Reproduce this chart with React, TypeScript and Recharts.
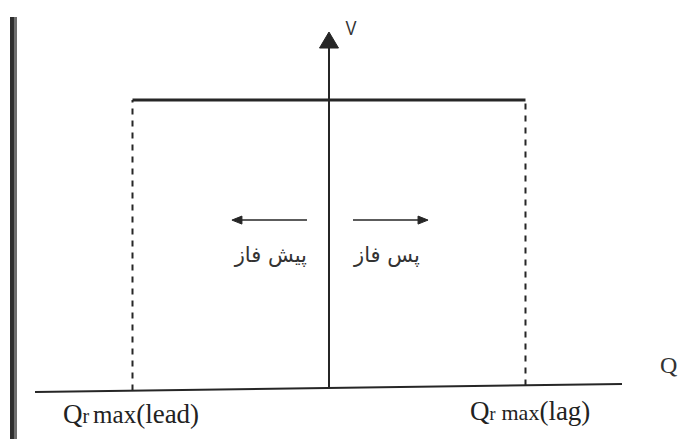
import React from "react";
import { ComposedChart, Scatter, XAxis, YAxis, ReferenceArea, ReferenceLine } from "recharts";

// Q axis (reactive power): lead = -1, lag = +1 (normalised Qr max)
const qLimits = [-1, 1];
// V level of the flat operating line (normalised)
const vLevel = 1;

const topLine = [{ x: -1, y: 1 }, { x: 1, y: 1 }];
const leadDash = [{ x: -1, y: -0.009 }, { x: -1, y: 1 }];
const lagDash = [{ x: 1, y: 0.009 }, { x: 1, y: 1 }];
const qAxis = [{ x: -1.496, y: -0.0139 }, { x: 1.491, y: 0.0139 }];
const vAxis = [{ x: 0, y: 0 }, { x: 0, y: 1.19 }];
const leadArrow = [{ x: -0.112, y: 0.583 }, { x: -0.46, y: 0.583 }];
const lagArrow = [{ x: 0.122, y: 0.583 }, { x: 0.47, y: 0.583 }];

const heads = [
  { q: 0, v: 1.236, dir: "up" },
  { q: -0.494, v: 0.583, dir: "left" },
  { q: 0.504, v: 0.583, dir: "right" },
];

const labels = [
  { q: 0.112, v: 1.226, kind: "V" },
  { q: -0.296, v: 0.438, kind: "lead-fa" },
  { q: 0.295, v: 0.438, kind: "lag-fa" },
  { q: -1.354, v: -0.1215, kind: "lead" },
  { q: 0.7176, v: -0.1111, kind: "lag" },
  { q: 1.685, v: 0.052, kind: "Q" },
];

const Q_DOMAIN = [-1.6743, 1.7812];
const V_DOMAIN = [-0.1771, 1.3472];
const INK = "#262626";

const HeadShape = (props: any) => {
  const { cx, cy, payload } = props;
  let d = "";
  if (payload.dir === "up") d = `M${cx},${cy} L${cx - 9.5},${cy + 16} L${cx + 9.5},${cy + 16} Z`;
  if (payload.dir === "left") d = `M${cx},${cy} L${cx + 10},${cy - 4} L${cx + 10},${cy + 4} Z`;
  if (payload.dir === "right") d = `M${cx},${cy} L${cx - 10},${cy - 4} L${cx - 10},${cy + 4} Z`;
  return <path d={d} fill={INK} stroke={INK} strokeWidth={1} />;
};

const serif = "'Liberation Serif', 'Times New Roman', serif";
const arabic = "'DejaVu Sans', sans-serif";

const LabelShape = (props: any) => {
  const { cx, cy, payload } = props;
  const k = payload.kind;
  if (k === "V")
    return (
      <text x={cx} y={cy} textAnchor="middle" fontFamily="'Liberation Sans', Arial, sans-serif" fontSize={20} fill="#333" textLength={11} lengthAdjust="spacingAndGlyphs">V</text>
    );
  if (k === "lead-fa" || k === "lag-fa")
    return (
      <text x={cx} y={cy} textAnchor="middle" fontFamily={arabic} fontSize={21} fill="#333" direction="rtl">
        {k === "lead-fa" ? "پیش فاز" : "پس فاز"}
      </text>
    );
  if (k === "lead")
    return (
      <text x={cx} y={cy} fontFamily={serif} fill="#222" fontSize={27}>
        <tspan>Q</tspan>
        <tspan fontSize={20}>r</tspan>
        <tspan fontSize={25} dx={4}>max</tspan>
        <tspan fontSize={27}>(lead)</tspan>
      </text>
    );
  if (k === "lag")
    return (
      <text x={cx} y={cy} fontFamily={serif} fill="#222" fontSize={27}>
        <tspan>Q</tspan>
        <tspan fontSize={18}>r</tspan>
        <tspan fontSize={22} dx={6}>max</tspan>
        <tspan fontSize={27}>(lag)</tspan>
      </text>
    );
  return (
    <text x={cx} y={cy} fontFamily={serif} fill="#333" fontSize={24}>Q</text>
  );
};

export default function App() {
  return (
    <div style={{ position: "absolute", left: 0, top: 0, width: 679, height: 439, background: "#fff" }}>
      <ComposedChart width={679} height={439} margin={{ top: 0, right: 0, bottom: 0, left: 0 }}>
        <XAxis type="number" dataKey="q" domain={Q_DOMAIN} hide allowDataOverflow />
        <YAxis type="number" dataKey="v" domain={V_DOMAIN} hide allowDataOverflow />
        <ReferenceArea x1={-1.6234} x2={-1.6031} y1={V_DOMAIN[0]} y2={1.288} fill="#2e2e2e" fillOpacity={1} stroke="none" />
        <ReferenceArea x1={-1.6031} x2={-1.5878} y1={V_DOMAIN[0]} y2={1.288} fill="#6e6e6e" fillOpacity={1} stroke="none" />
        <ReferenceLine segment={qAxis} stroke={INK} strokeWidth={2} />
        <ReferenceLine segment={vAxis} stroke={INK} strokeWidth={2} />
        <ReferenceLine segment={leadDash} stroke={INK} strokeWidth={2} strokeDasharray="6 6" />
        <ReferenceLine segment={lagDash} stroke={INK} strokeWidth={2} strokeDasharray="6 6" />
        <ReferenceLine segment={topLine} stroke={INK} strokeWidth={3} />
        <ReferenceLine segment={leadArrow} stroke={INK} strokeWidth={1.5} />
        <ReferenceLine segment={lagArrow} stroke={INK} strokeWidth={1.5} />
        <Scatter data={heads} dataKey="v" shape={HeadShape} isAnimationActive={false} />
        <Scatter data={labels} dataKey="v" shape={LabelShape} isAnimationActive={false} />
      </ComposedChart>
    </div>
  );
}
